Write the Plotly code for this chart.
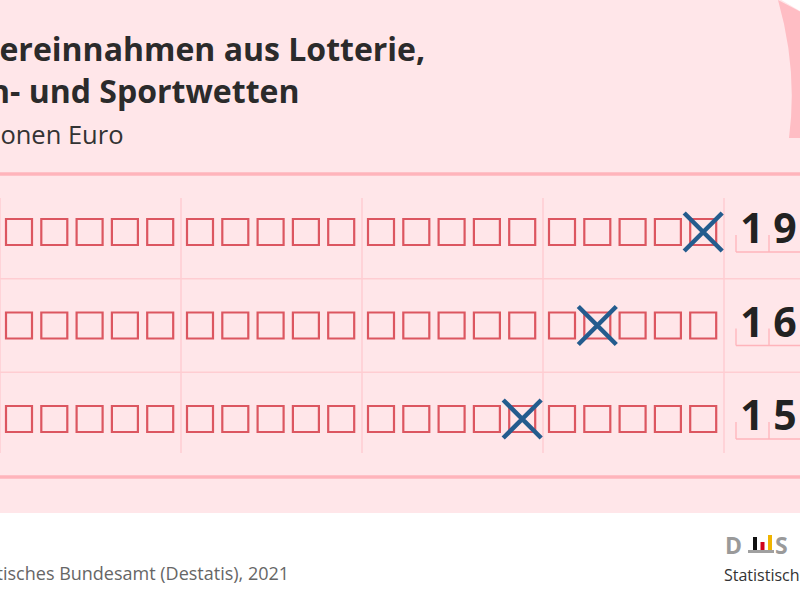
import plotly.graph_objects as go

# ---------------- data ----------------
values = [1960, 1670, 1520]          # Mio. Euro, top to bottom
title_lines = ["Steuereinnahmen aus Lotterie,", "Renn- und Sportwetten"]
subtitle = "in Millionen Euro"
source = "Quelle: Statistisches Bundesamt (Destatis), 2021"
logo_caption = "Statistisches Bundesamt"
n_boxes = 20
unit = 100                            # Mio. Euro per box

# ---------------- layout helpers ----------------
BG = "#FFE6E9"
LINE = "#FFB4BB"
GRID = "#FFCDD2"
BOX = "#DC5660"
CROSS = "#245C8E"


def box_x(n):
    g, k = divmod(n - 1, 5)
    return 181 * g + 19 + 35.3 * k


def row_y(i):
    return 232 + 93.5 * i


fig = go.Figure()

shapes = []
# background panel
shapes.append(dict(type="rect", x0=-5, x1=805, y0=-5, y1=513, fillcolor=BG,
                   line_width=0, layer="below"))
# page curl top right
shapes.append(dict(type="path", path="M 778 0 Q 798 70 789 138 L 805 138 L 805 14 Z",
                   fillcolor="#FFBDC4", line_width=0, layer="below"))
shapes.append(dict(type="path", path="M 778 -2 L 805 -2 L 805 14 Z",
                   fillcolor="white", line_width=0, layer="below"))
# thick top / bottom lines
for yy in (174, 477):
    shapes.append(dict(type="line", x0=-5, x1=805, y0=yy, y1=yy,
                       line=dict(color=LINE, width=3.5), layer="below"))
# row separators
for i in range(len(values) - 1):
    yy = (row_y(i) + row_y(i + 1)) / 2
    shapes.append(dict(type="line", x0=-5, x1=805, y0=yy, y1=yy,
                       line=dict(color=GRID, width=1.5), layer="below"))
# group separators
for g in range(5):
    xx = 181 * g
    shapes.append(dict(type="line", x0=xx, x1=xx, y0=198, y1=453,
                       line=dict(color=GRID, width=1.5), layer="below"))
# digit combs
for i in range(len(values)):
    yc = row_y(i)
    shapes.append(dict(type="line", x0=736, x1=810, y0=yc + 20, y1=yc + 20,
                       line=dict(color=LINE, width=1.3), layer="below"))
    for j in range(4):
        xx = 736 + 33 * j
        shapes.append(dict(type="line", x0=xx, x1=xx, y0=yc + 3, y1=yc + 20,
                           line=dict(color=LINE, width=1.3), layer="below"))
# logo bars
shapes += [
    dict(type="rect", x0=753, x1=757, y0=537, y1=550, fillcolor="#111111", line_width=0),
    dict(type="rect", x0=760.5, x1=764.5, y0=542, y1=550, fillcolor="#D0021B", line_width=0),
    dict(type="rect", x0=768, x1=772, y0=535, y1=550, fillcolor="#F0B400", line_width=0),
    dict(type="rect", x0=748, x1=774, y0=550, y1=553, fillcolor="#A0A0A0", line_width=0),
]

# boxes
bx, by = [], []
for i in range(len(values)):
    for n in range(1, n_boxes + 1):
        bx.append(box_x(n))
        by.append(row_y(i))
fig.add_trace(go.Scatter(x=bx, y=by, mode="markers", hoverinfo="skip",
                         marker=dict(symbol="square-open", size=26, color=BOX,
                                     line=dict(width=2.2, color=BOX))))

# crosses
cx = [box_x(round(v / unit)) for v in values]
cy = [row_y(i) for i in range(len(values))]
fig.add_trace(go.Scatter(x=cx, y=cy, mode="markers", hoverinfo="text",
                         text=[f"{v} Mio. Euro" for v in values],
                         marker=dict(symbol="x-thin", size=38, color=CROSS,
                                     line=dict(width=4.5, color=CROSS))))

# digits
dx, dy, dt = [], [], []
for i, v in enumerate(values):
    for j, ch in enumerate(str(v)):
        dx.append(752 + 33 * j)
        dy.append(row_y(i) + 1)
        dt.append(ch)
fig.add_trace(go.Scatter(x=dx, y=dy, mode="text", text=dt, hoverinfo="skip",
                         textfont=dict(family="Open Sans", size=41, color="#222222",
                                       weight=700)))

annotations = [
    dict(x=427, y=25, text="<br>".join(title_lines), xanchor="right", yanchor="top",
         align="left",
         font=dict(family="Open Sans", size=32, color="#2B2B2B", weight=700)),
    dict(x=126, y=134, text=subtitle, xanchor="right", yanchor="middle",
         font=dict(family="Open Sans", size=25.5, color="#333333")),
    dict(x=291, y=573, text=source, xanchor="right", yanchor="middle",
         font=dict(family="Open Sans", size=18, color="#666666")),
    dict(x=723, y=545, text="<b>D</b>", xanchor="left", yanchor="middle",
         font=dict(family="Open Sans", size=23, color="#9A9A9A")),
    dict(x=773, y=545, text="<b>S</b>", xanchor="left", yanchor="middle",
         font=dict(family="Open Sans", size=23, color="#9A9A9A")),
    dict(x=722, y=575, text=logo_caption, xanchor="left", yanchor="middle",
         font=dict(family="Open Sans", size=16, color="#333333")),
]
for a in annotations:
    a.update(xref="x", yref="y", showarrow=False)

fig.update_layout(
    width=800, height=600,
    margin=dict(l=0, r=0, t=0, b=0),
    paper_bgcolor="white", plot_bgcolor="rgba(0,0,0,0)",
    showlegend=False,
    xaxis=dict(range=[0, 800], visible=False, fixedrange=True),
    yaxis=dict(range=[600, 0], visible=False, fixedrange=True),
    shapes=shapes,
    annotations=annotations,
)

fig.write_html("out.html", config={"displayModeBar": False},
               post_script="document.body.style.margin='0';document.body.style.padding='0';")
